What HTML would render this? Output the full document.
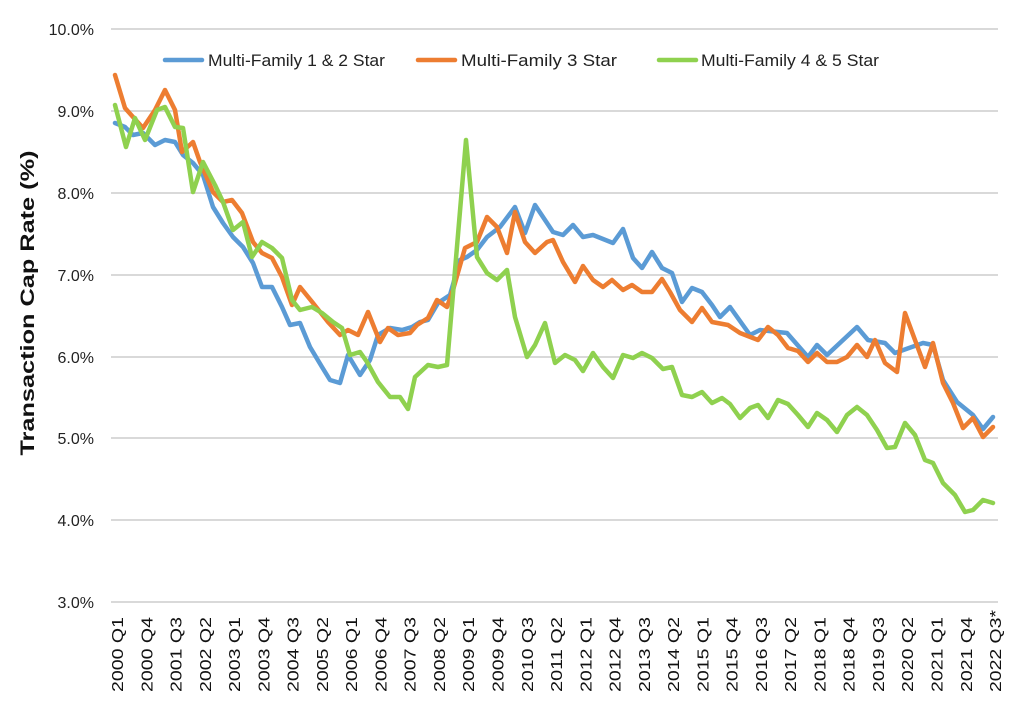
<!DOCTYPE html>
<html><head><meta charset="utf-8"><style>
html,body{margin:0;padding:0;background:#fff;}
svg{display:block;font-family:"Liberation Sans",sans-serif;}
</style></head><body>
<svg width="1024" height="724" viewBox="0 0 1024 724">
<g stroke="#d9d9d9" stroke-width="2">
<line x1="111" x2="998" y1="29" y2="29"/><line x1="111" x2="998" y1="111" y2="111"/>
<line x1="111" x2="998" y1="193" y2="193"/><line x1="111" x2="998" y1="275" y2="275"/>
<line x1="111" x2="998" y1="357" y2="357"/><line x1="111" x2="998" y1="438" y2="438"/>
<line x1="111" x2="998" y1="520" y2="520"/><line x1="111" x2="998" y1="602" y2="602"/>
</g>
<g font-size="16" fill="#222" text-anchor="end">
<text x="94" y="35">10.0%</text><text x="94" y="117">9.0%</text><text x="94" y="199">8.0%</text>
<text x="94" y="281">7.0%</text><text x="94" y="363">6.0%</text><text x="94" y="444">5.0%</text>
<text x="94" y="526">4.0%</text><text x="94" y="608">3.0%</text>
</g>
<text transform="translate(34,303) rotate(-90)" text-anchor="middle" font-size="19" font-weight="bold" fill="#111" textLength="305" lengthAdjust="spacingAndGlyphs">Transaction Cap Rate (%)</text>
<g font-size="16" fill="#111" text-anchor="start">
<text transform="translate(123.0,692) rotate(-90)" textLength="75" lengthAdjust="spacingAndGlyphs">2000 Q1</text>
<text transform="translate(152.3,692) rotate(-90)" textLength="75" lengthAdjust="spacingAndGlyphs">2000 Q4</text>
<text transform="translate(181.5,692) rotate(-90)" textLength="75" lengthAdjust="spacingAndGlyphs">2001 Q3</text>
<text transform="translate(210.8,692) rotate(-90)" textLength="75" lengthAdjust="spacingAndGlyphs">2002 Q2</text>
<text transform="translate(240.1,692) rotate(-90)" textLength="75" lengthAdjust="spacingAndGlyphs">2003 Q1</text>
<text transform="translate(269.3,692) rotate(-90)" textLength="75" lengthAdjust="spacingAndGlyphs">2003 Q4</text>
<text transform="translate(298.6,692) rotate(-90)" textLength="75" lengthAdjust="spacingAndGlyphs">2004 Q3</text>
<text transform="translate(327.9,692) rotate(-90)" textLength="75" lengthAdjust="spacingAndGlyphs">2005 Q2</text>
<text transform="translate(357.1,692) rotate(-90)" textLength="75" lengthAdjust="spacingAndGlyphs">2006 Q1</text>
<text transform="translate(386.4,692) rotate(-90)" textLength="75" lengthAdjust="spacingAndGlyphs">2006 Q4</text>
<text transform="translate(415.7,692) rotate(-90)" textLength="75" lengthAdjust="spacingAndGlyphs">2007 Q3</text>
<text transform="translate(444.9,692) rotate(-90)" textLength="75" lengthAdjust="spacingAndGlyphs">2008 Q2</text>
<text transform="translate(474.2,692) rotate(-90)" textLength="75" lengthAdjust="spacingAndGlyphs">2009 Q1</text>
<text transform="translate(503.5,692) rotate(-90)" textLength="75" lengthAdjust="spacingAndGlyphs">2009 Q4</text>
<text transform="translate(532.8,692) rotate(-90)" textLength="75" lengthAdjust="spacingAndGlyphs">2010 Q3</text>
<text transform="translate(562.0,692) rotate(-90)" textLength="75" lengthAdjust="spacingAndGlyphs">2011 Q2</text>
<text transform="translate(591.3,692) rotate(-90)" textLength="75" lengthAdjust="spacingAndGlyphs">2012 Q1</text>
<text transform="translate(620.6,692) rotate(-90)" textLength="75" lengthAdjust="spacingAndGlyphs">2012 Q4</text>
<text transform="translate(649.8,692) rotate(-90)" textLength="75" lengthAdjust="spacingAndGlyphs">2013 Q3</text>
<text transform="translate(679.1,692) rotate(-90)" textLength="75" lengthAdjust="spacingAndGlyphs">2014 Q2</text>
<text transform="translate(708.4,692) rotate(-90)" textLength="75" lengthAdjust="spacingAndGlyphs">2015 Q1</text>
<text transform="translate(737.6,692) rotate(-90)" textLength="75" lengthAdjust="spacingAndGlyphs">2015 Q4</text>
<text transform="translate(766.9,692) rotate(-90)" textLength="75" lengthAdjust="spacingAndGlyphs">2016 Q3</text>
<text transform="translate(796.2,692) rotate(-90)" textLength="75" lengthAdjust="spacingAndGlyphs">2017 Q2</text>
<text transform="translate(825.4,692) rotate(-90)" textLength="75" lengthAdjust="spacingAndGlyphs">2018 Q1</text>
<text transform="translate(854.7,692) rotate(-90)" textLength="75" lengthAdjust="spacingAndGlyphs">2018 Q4</text>
<text transform="translate(884.0,692) rotate(-90)" textLength="75" lengthAdjust="spacingAndGlyphs">2019 Q3</text>
<text transform="translate(913.2,692) rotate(-90)" textLength="75" lengthAdjust="spacingAndGlyphs">2020 Q2</text>
<text transform="translate(942.5,692) rotate(-90)" textLength="75" lengthAdjust="spacingAndGlyphs">2021 Q1</text>
<text transform="translate(971.8,692) rotate(-90)" textLength="75" lengthAdjust="spacingAndGlyphs">2021 Q4</text>
<text transform="translate(1001.0,692) rotate(-90)" textLength="82" lengthAdjust="spacingAndGlyphs">2022 Q3*</text>
</g>
<g fill="none" stroke-width="4.5" stroke-linejoin="round" stroke-linecap="round">
<polyline stroke="#5b9bd5" points="115,123 125,127 133,135 143,133 155,145 165,140 175,142 183,155 193,163 203,175 213,207 223,223 233,237 243,247 253,263 262,287 272,287 282,307 290,325 300,323 310,347 322,367 330,380 340,383 348,355 360,375 370,360 378,335 390,328 402,330 412,327 420,322 428,320 438,303 450,295 460,260 467,257 477,250 487,237 500,227 515,207 525,233 535,205 553,232 563,235 573,225 583,237 593,235 613,243 623,229 633,258 642,268 652,252 662,268 672,273 682,302 692,288 702,292 712,305 720,317 730,307 750,335 760,330 787,333 808,357 817,345 827,355 857,327 868,340 885,343 895,353 923,343 933,345 943,380 957,402 973,415 983,429 993,417"/>
<polyline stroke="#ed7d31" points="115,75 125,108 133,117 143,128 155,110 165,90 175,110 182,152 193,142 200,162 213,192 223,202 232,200 242,213 253,242 262,253 272,258 282,277 292,305 300,287 313,303 328,322 340,335 348,330 358,335 368,312 380,342 388,328 398,335 410,333 417,325 428,318 437,300 447,307 453,290 465,248 477,242 487,217 497,227 507,253 515,212 525,242 535,253 547,242 553,240 563,262 575,282 583,266 593,280 603,287 612,280 623,290 632,285 642,292 652,292 662,279 670,292 680,310 692,322 702,308 712,322 728,325 740,333 758,340 768,327 778,335 788,348 798,351 808,362 817,353 827,362 837,362 847,357 857,345 867,357 875,340 885,363 897,372 905,313 915,340 925,367 933,343 943,383 953,403 963,428 973,418 983,437 993,427"/>
<polyline stroke="#8fd14f" points="115,105 126,147 135,118 145,140 157,110 165,107 175,127 183,128 193,192 203,162 215,185 223,202 233,230 243,222 252,257 262,242 272,248 282,258 292,300 300,310 312,307 322,313 333,322 342,328 350,355 360,352 367,362 378,382 390,397 400,397 408,409 415,377 428,365 438,367 447,365 466,140 477,257 487,273 497,280 507,270 515,317 527,357 535,345 545,323 555,363 565,355 575,360 583,371 593,353 603,367 613,378 623,355 633,358 642,353 652,358 663,369 672,367 682,395 692,397 702,392 712,403 722,398 730,404 740,418 750,408 758,405 768,418 778,400 788,404 798,415 808,427 817,413 827,420 837,432 847,415 857,407 867,415 877,430 887,448 895,447 905,423 915,435 925,460 933,463 943,483 955,495 965,512 973,510 983,500 993,503"/>
<line x1="165" x2="202" y1="60" y2="60" stroke="#5b9bd5"/>
<line x1="418" x2="455" y1="60" y2="60" stroke="#ed7d31"/>
<line x1="659" x2="696" y1="60" y2="60" stroke="#8fd14f"/>
</g>
<g font-size="17" fill="#222">
<text x="208" y="66" textLength="177" lengthAdjust="spacingAndGlyphs">Multi-Family 1 &amp; 2 Star</text>
<text x="461" y="66" textLength="156" lengthAdjust="spacingAndGlyphs">Multi-Family 3 Star</text>
<text x="701" y="66" textLength="178" lengthAdjust="spacingAndGlyphs">Multi-Family 4 &amp; 5 Star</text>
</g>
</svg>
</body></html>
